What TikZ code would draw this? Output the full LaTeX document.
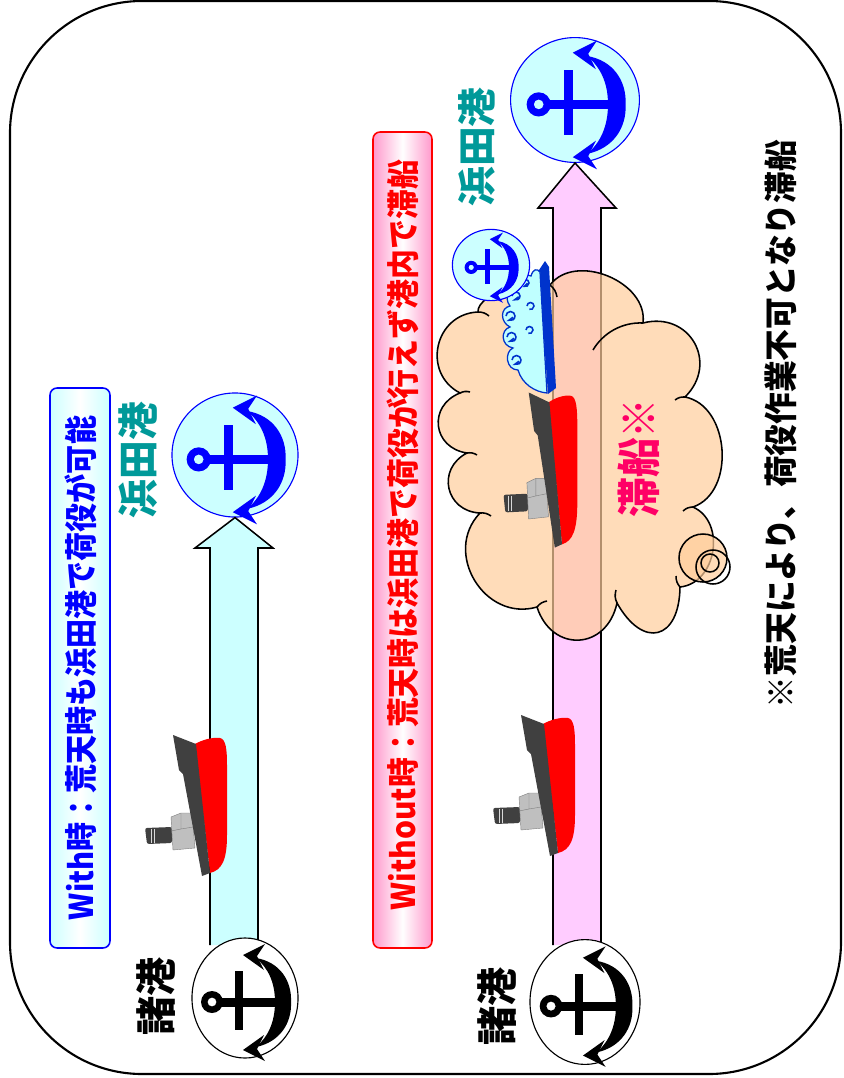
\documentclass[tikz,border=0pt]{standalone}
\usepackage{fontspec}
\usepackage{graphicx}
\newfontfamily\jp{Noto Sans CJK JP}
\usetikzlibrary{shapes.geometric}

\definecolor{portcyan}{HTML}{CCFFFF}
\definecolor{routepink}{HTML}{FFCCFF}
\definecolor{cloudfill}{HTML}{FFCD9B}
\definecolor{hamadateal}{HTML}{009999}
\definecolor{staycol}{HTML}{FF0066}
\definecolor{hullgray}{HTML}{404040}
\definecolor{bridgegray}{HTML}{BFBFBF}
\definecolor{spraycyan}{HTML}{BFFFFF}
\definecolor{sprayblue}{HTML}{0033CC}
\definecolor{boxpink}{HTML}{FF99CC}

% bold Japanese text stretched to a given length and thickness
\newcommand{\jpfit}[3]{\resizebox*{#1}{#2}{\jp\bfseries #3}}

\tikzset{
  jptext/.style={inner sep=0pt, rotate=90},
  porttop/.style={ellipse, draw=blue, fill=portcyan, line width=0.8pt, inner sep=0pt},
  portbottom/.style={ellipse, draw=black, fill=white, line width=0.8pt, inner sep=0pt},
  routearrow/.style={draw=black, line width=1.1pt, line join=miter},
  labelbox/.style={line width=1.1pt, rounded corners=5pt},
  cloudshape/.style={draw=black, line width=1.1pt, fill=cloudfill, fill opacity=0.7},
  cloudline/.style={draw=black, line width=1.1pt},
  bump/.style={bend left=75, looseness=#1},
  % anchor mark, crown pointing right (local units = px)
  anchorsym/.pic={
    \fill[#1, even odd rule] (-33,4) circle (11) (-33,4) circle (4.5);
    \fill[#1] (-24,0) rectangle (40,8.5);
    \fill[#1] (-10,-27) rectangle (-2,32);
    \fill[#1] (11,-40) .. controls (35,-36) and (47,-17) .. (46,4)
      .. controls (47,25) and (35,44) .. (11,49)
      .. controls (23,39) and (30,24) .. (30,4)
      .. controls (30,-16) and (23,-30) .. (11,-40) -- cycle;
    \fill[#1] (-2,-43) -- (20,-54) -- (12,-42) -- (19,-28) -- cycle;
    \fill[#1] (-2,52) -- (20,63) -- (12,51) -- (19,37) -- cycle;
  },
  % small freighter seen from the side, bow up
  shippic/.pic={
    \fill[hullgray, rounded corners=1.5pt] (-55,28) -- (-28,27) -- (-28,43) -- (-53,44) -- cycle;
    \draw[white!85!black, line width=0.6pt] (-49,29) -- (-49,43) (-46,29) -- (-46,43);
    \filldraw[fill=bridgegray, draw=gray, line width=0.3pt] (-29,17) -- (-19,13) -- (-8,13) -- (-5,48) -- (-27,50) -- cycle;
    \draw[gray, line width=0.3pt] (-19,13) -- (-19,29) -- (-29,31) (-19,29) -- (-7,27);
    \fill[red] (-5,-56) .. controls (2,-60) and (12,-63) .. (20,-62)
      .. controls (26,-61) and (27,-50) .. (27,-35) -- (27,35)
      .. controls (27,60) and (22,70) .. (10,73) -- cycle;
    \fill[hullgray] (-27,-65) -- (-4,-56) -- (10,73) -- (2,76) -- (-17,-26) -- (-21,-30) -- cycle;
  },
}

\begin{document}
\begin{tikzpicture}[x=0.025cm, y=-0.025cm]
\useasboundingbox (0,0) rectangle (843,1078);

% frame
\draw[line width=1.5pt, rounded corners=3.3cm] (10,1) rectangle (841,1074);

% ---------- With case ----------
\draw[labelbox, draw=blue, left color=portcyan, right color=portcyan, middle color=white]
  (50,388) rectangle (110,948);
\node[jptext, text=blue] (withlabel) at (81,668) {\jpfit{12.6cm}{0.8cm}{With時：荒天時も浜田港で荷役が可能}};

\node[porttop, minimum width=3.15cm, minimum height=3.1cm] (hamadaW) at (235,455) {};
\pic[scale=1.1] at (hamadaW.center) {anchorsym=blue};
\node[jptext, text=hamadateal] (hamadaWtext) at (138,460) {\jpfit{2.9cm}{0.97cm}{浜田港}};

\draw[routearrow, fill=portcyan] (210,945) -- (210,548) -- (195,548) -- (hamadaW.south)
  -- (273,548) -- (258,548) -- (258,945);

\pic at (200,800) {shippic};

\node[portbottom, minimum width=2.65cm, minimum height=3.0cm] (moroW) at (245,998) {};
\pic at (moroW.center) {anchorsym=black};
\node[jptext] (moroWtext) at (156,996) {\jpfit{1.95cm}{0.97cm}{諸港}};

% ---------- Without case ----------
\draw[labelbox, draw=red, left color=boxpink, right color=boxpink, middle color=white]
  (373,132) rectangle (432,948);
\node[jptext, text=red] (withoutlabel) at (403,535) {\jpfit{18.75cm}{0.8cm}{Without時：荒天時は浜田港で荷役が行えず港内で滞船}};

\node[porttop, minimum width=3.22cm, minimum height=3.12cm] (hamadaWo) at (575,100) {};
\pic[scale=1.1] at (hamadaWo.center) {anchorsym=blue};
\node[jptext, text=hamadateal] (hamadaWotext) at (477,147) {\jpfit{2.98cm}{0.92cm}{浜田港}};

\draw[routearrow, fill=routepink] (553,945) -- (553,208) -- (538,208) -- (hamadaWo.south)
  -- (616,208) -- (601,208) -- (601,945);

\pic at (548,780) {shippic};

% weather cloud over the route
\path[cloudshape] (478,312)
  to[bump=0.6] (550,285)
  to[bump=1.06] (643,323)
  to[bump=1.45] (685,397)
  to[bump=1.06] (693,507)
  to[bump=1.16] (680,587)
  to[bump=2.1] (617,603)
  to[bump=1.55] (537,607)
  to[bump=1.27] (480,513)
  to[bump=1.45] (467,453)
  to[bump=1.48] (460,393)
  to[bump=1.34] (478,312) -- cycle;
\draw[cloudline] (643,323) .. controls (622,322) and (603,333) .. (593,350);
\draw[cloudline] (685,397) to[bend right=20] (675,400);
\draw[cloudline] (693,507) to[bend right=20] (683,511);
\draw[cloudline] (680,587) to[bend left=20] (676,576);
\draw[cloudline] (617,603) to[bend left=20] (616,590);
\draw[cloudline] (537,607) to[bend left=20] (547,601);
\draw[cloudline] (480,513) to[bend left=20] (491,516);
\draw[cloudline] (467,453) to[bend left=20] (477,455);
\draw[cloudline] (460,393) to[bend left=20] (470,392);
\draw[cloudline] (478,312) to[bend left=20] (489,316);
\draw[cloudline] (550,285) to[bend left=20] (557,297);
% swirl
\filldraw[cloudline, fill=cloudfill, fill opacity=0.7] (703,558) circle (24);
\draw[cloudline] (713,567) circle (17);
\draw[cloudline] (710,563) circle (9);

\node[jptext, text=staycol] (staytext) at (639,458) {\jpfit{2.98cm}{1.05cm}{滞船※}};

% ship held in port, bow in the spray
\pic[xscale=0.9, yscale=1.1] at (553,464) {shippic};
\fill[sprayblue] (539,270) -- (545,261) -- (549,267) -- (556,388) -- (548,394) -- cycle;
\filldraw[fill=spraycyan, draw=sprayblue, line width=0.9pt]
  (540,272) -- (547,393)
  .. controls (535,392) and (522,384) .. (518,370)
  .. controls (506,370) and (504,352) .. (513,348)
  .. controls (501,346) and (500,330) .. (510,327)
  .. controls (500,322) and (500,308) .. (510,306)
  .. controls (503,297) and (510,286) .. (519,289)
  .. controls (517,278) and (526,272) .. (531,276)
  .. controls (533,269) and (537,268) .. (540,272) -- cycle;
\draw[sprayblue, line width=1.1pt]
  (512,360) arc[start angle=180, end angle=470, radius=4.5] -- ++(4,-3)
  (507,337) arc[start angle=180, end angle=470, radius=4.5] -- ++(4,-3)
  (506,316) arc[start angle=180, end angle=470, radius=4.5] -- ++(4,-3)
  (512,296) arc[start angle=180, end angle=470, radius=4] -- ++(4,-3)
  (522,283) arc[start angle=180, end angle=470, radius=3.5] -- ++(3,-3)
  (526,330) arc[start angle=180, end angle=470, radius=3.5]
  (527,306) arc[start angle=180, end angle=470, radius=3.5];

\node[porttop, minimum width=1.93cm, minimum height=1.78cm] (hamadaSmall) at (491,265) {};
\pic[scale=0.6] at (hamadaSmall.center) {anchorsym=blue};

\node[portbottom, minimum width=2.75cm, minimum height=3.12cm] (moroWo) at (585,1002) {};
\pic[scale=1.03] at (moroWo.center) {anchorsym=black};
\node[jptext] (moroWotext) at (497,1006) {\jpfit{1.95cm}{0.97cm}{諸港}};

% footnote
\node[jptext] (note) at (781,424) {\jpfit{14.2cm}{0.8cm}{※荒天により、荷役作業不可となり滞船}};
\end{tikzpicture}
\end{document}
